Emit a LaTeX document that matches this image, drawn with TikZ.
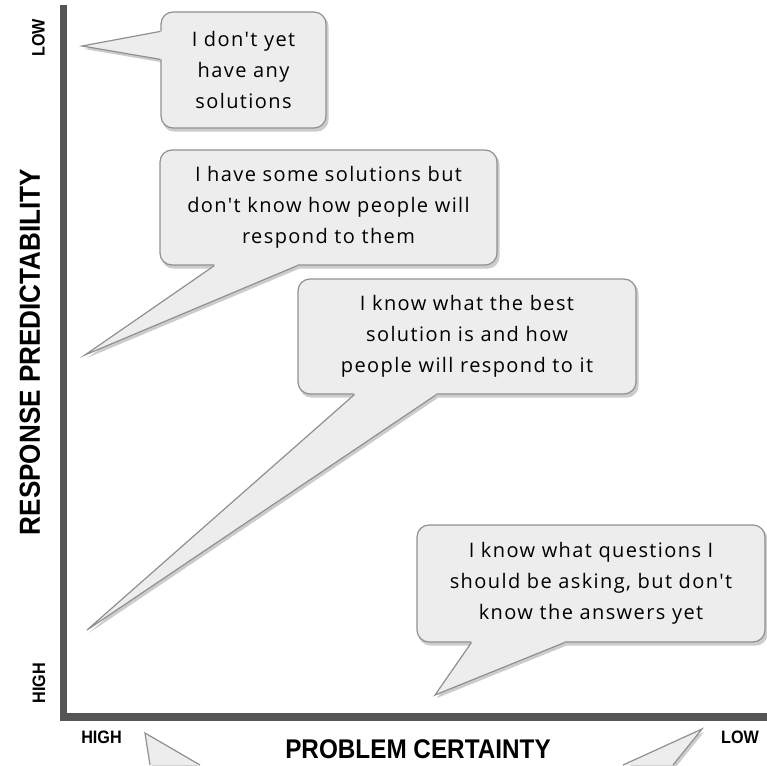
\documentclass[tikz,border=0pt]{standalone}
\usepackage{fontspec}
\setmainfont{Open Sans}
\newfontfamily\bubblefont[LetterSpace=7]{Open Sans}
\newfontfamily\axisfont[FakeStretch=0.9]{Liberation Sans}
\usetikzlibrary{calc}
\definecolor{bubblefill}{HTML}{EDEDED}
\definecolor{bubbleline}{HTML}{909090}
\definecolor{axisgray}{HTML}{555555}
\pgfdeclarelayer{shadow}
\pgfsetlayers{shadow,main}

\begin{document}
\begin{tikzpicture}[x=1pt, y=-1pt,
  box/.style={rectangle, rounded corners=12pt, fill=bubblefill, draw=bubbleline, line width=1.2pt, align=center, inner sep=0pt, font=\bubblefont\fontsize{20}{31}\selectfont},
  tailfill/.style={fill=bubblefill},
  tailline/.style={draw=bubbleline, line width=1.2pt, line join=miter},
  shade/.style={fill=black, opacity=0.2},
  ax/.style={draw=axisgray, line width=7.5pt},
  axlabel/.style={font=\axisfont\bfseries\fontsize{18}{18}\selectfont},
  axtitle/.style={font=\axisfont\bfseries\fontsize{27}{27}\selectfont}]
\useasboundingbox (0,0) rectangle (767,765);

% axes
\draw[ax] (63.5,5) -- (63.5,717) -- (767,717);

% axis labels
\node[axlabel, rotate=90] (ylow) at (38.5,38) {LOW};
\node[axlabel, rotate=90] (yhigh) at (39,683) {HIGH};
\node[axtitle, rotate=90, font=\axisfont\bfseries\fontsize{29}{29}\selectfont] (ytitle) at (30,352) {RESPONSE PREDICTABILITY};
\node[axlabel] (xhigh) at (101.5,737.5) {HIGH};
\node[axlabel] (xlow) at (740,737) {LOW};
\node[axtitle] (xtitle) at (418,749.5) {PROBLEM CERTAINTY};

% bubbles
\node[box, minimum width=165, minimum height=116] (nosol) at (243.5,70) {I don't yet\\have any\\solutions};
\node[box, minimum width=337, minimum height=115] (somesol) at (328.5,207.5) {I have some solutions but\\don't know how people will\\respond to them};
\node[box, minimum width=338, minimum height=115] (bestsol) at (467,336.5) {I know what the best\\solution is and how\\people will respond to it};
\node[box, minimum width=348, minimum height=117] (quest) at (591,583.5) {I know what questions I\\should be asking, but don't\\know the answers yet};

% tail points
\coordinate (nosoltip) at (82,46);
\coordinate (nosolb1) at ($(nosol.north west)+(0,20)$);
\coordinate (nosolb2) at ($(nosol.north west)+(0,48)$);
\coordinate (somesoltip) at (85,355);
\coordinate (somesolb1) at ($(somesol.south west)+(55,0)$);
\coordinate (somesolb2) at ($(somesol.south west)+(138,0)$);
\coordinate (bestsoltip) at (87,630);
\coordinate (bestsolb1) at ($(bestsol.south west)+(57,0)$);
\coordinate (bestsolb2) at ($(bestsol.south west)+(139,0)$);
\coordinate (questtip) at (435,695);
\coordinate (questb1) at ($(quest.south west)+(55,0)$);
\coordinate (questb2) at ($(quest.south west)+(148,0)$);
\coordinate (lefttip) at (145,733);
\coordinate (leftb1) at (150,765);
\coordinate (leftb2) at (200,765);
\coordinate (righttip) at (702,729);
\coordinate (rightb1) at (623,765);
\coordinate (rightb2) at (673,765);

% shadows
\begin{pgfonlayer}{shadow}
\begin{scope}[transform canvas={shift={(2pt,-3pt)}}]
  \fill[shade, rounded corners=12pt] (nosol.north west) rectangle (nosol.south east);
  \fill[shade, rounded corners=12pt] (somesol.north west) rectangle (somesol.south east);
  \fill[shade, rounded corners=12pt] (bestsol.north west) rectangle (bestsol.south east);
  \fill[shade, rounded corners=12pt] (quest.north west) rectangle (quest.south east);
  \fill[shade] (nosolb1) -- (nosoltip) -- (nosolb2) -- cycle;
  \fill[shade] (somesolb1) -- (somesoltip) -- (somesolb2) -- cycle;
  \fill[shade] (bestsolb1) -- (bestsoltip) -- (bestsolb2) -- cycle;
  \fill[shade] (questb1) -- (questtip) -- (questb2) -- cycle;
  \fill[shade] (leftb1) -- (lefttip) -- (leftb2) -- cycle;
  \fill[shade] (rightb1) -- (righttip) -- (rightb2) -- cycle;
\end{scope}
\end{pgfonlayer}

% tails
\fill[tailfill] ($(nosolb1)+(4,0)$) -- (nosolb1) -- (nosoltip) -- (nosolb2) -- ($(nosolb2)+(4,0)$) -- cycle;
\draw[tailline] (nosolb1) -- (nosoltip) -- (nosolb2);
\fill[tailfill] ($(somesolb1)+(0,-4)$) -- (somesolb1) -- (somesoltip) -- (somesolb2) -- ($(somesolb2)+(0,-4)$) -- cycle;
\draw[tailline] (somesolb1) -- (somesoltip) -- (somesolb2);
\fill[tailfill] ($(bestsolb1)+(0,-4)$) -- (bestsolb1) -- (bestsoltip) -- (bestsolb2) -- ($(bestsolb2)+(0,-4)$) -- cycle;
\draw[tailline] (bestsolb1) -- (bestsoltip) -- (bestsolb2);
\fill[tailfill] ($(questb1)+(0,-4)$) -- (questb1) -- (questtip) -- (questb2) -- ($(questb2)+(0,-4)$) -- cycle;
\draw[tailline] (questb1) -- (questtip) -- (questb2);
\fill[tailfill] (leftb1) -- (lefttip) -- (leftb2) -- cycle;
\draw[tailline] (leftb1) -- (lefttip) -- (leftb2);
\fill[tailfill] (rightb1) -- (righttip) -- (rightb2) -- cycle;
\draw[tailline] (rightb1) -- (righttip) -- (rightb2);
\end{tikzpicture}
\end{document}
